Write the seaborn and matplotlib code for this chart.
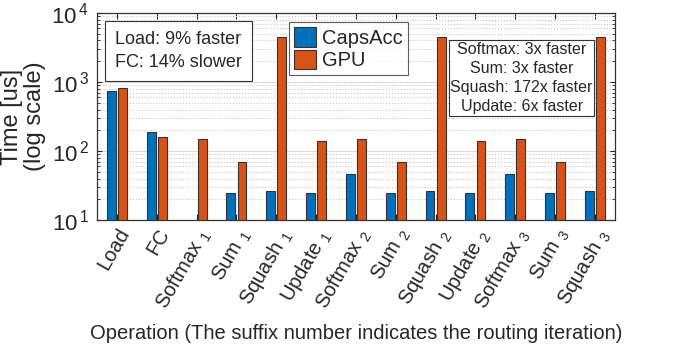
import numpy as np
import pandas as pd
import matplotlib
matplotlib.use("Agg")
import matplotlib.pyplot as plt
import seaborn as sns
from matplotlib.ticker import FixedLocator, FixedFormatter

# --- data ---
operations = ["Load", "FC",
              "Softmax $_1$", "Sum $_1$", "Squash $_1$", "Update $_1$",
              "Softmax $_2$", "Sum $_2$", "Squash $_2$", "Update $_2$",
              "Softmax $_3$", "Sum $_3$", "Squash $_3$"]
capsacc_us = [740, 188, np.nan, 24.6, 26, 24.6, 46, 24.6, 26, 24.6, 46, 24.6, 26]
gpu_us = [810, 162, 149, 69, 4450, 140, 149, 69, 4450, 140, 149, 69, 4450]
systems = ["CapsAcc", "GPU"]
colors = ["#0072BD", "#D95319"]
ytick_vals = [10, 100, 1000, 10000]
ytick_labels = ["10$^{\\,1}$", "10$^{\\,2}$", "10$^{\\,3}$", "10$^{\\,4}$"]

df = pd.DataFrame({
    "Operation": operations * 2,
    "Time": capsacc_us + gpu_us,
    "System": [systems[0]] * len(operations) + [systems[1]] * len(operations),
}).dropna()

sns.set_style("ticks")
plt.rcParams["font.family"] = ["Liberation Sans", "DejaVu Sans"]
plt.rcParams["mathtext.fontset"] = "custom"
plt.rcParams["mathtext.rm"] = "Liberation Sans"
plt.rcParams["mathtext.it"] = "Liberation Sans"
plt.rcParams["text.color"] = "#262626"
plt.rcParams["axes.labelcolor"] = "#262626"
plt.rcParams["xtick.color"] = "#262626"
plt.rcParams["ytick.color"] = "#262626"

fig = plt.figure(figsize=(6.76, 3.5), dpi=100)
ax = fig.add_axes([0.1435, 0.371, 0.766, 0.592])

sns.barplot(data=df, x="Operation", y="Time", hue="System",
            order=operations, hue_order=systems, palette=colors,
            width=0.56, gap=0.2, errorbar=None, edgecolor="#333333",
            linewidth=0.8, saturation=1, ax=ax)

ax.set_yscale("log")
ax.set_ylim(10, 1e4)
ax.set_xlim(-0.5, len(operations) - 0.5)
ax.yaxis.set_major_locator(FixedLocator(ytick_vals))
ax.yaxis.set_major_formatter(FixedFormatter(ytick_labels))

ax.yaxis.grid(True, which="major", color="#dddddd", linewidth=0.8)
ax.yaxis.grid(True, which="minor", color="#c8c8c8", linestyle=":", linewidth=0.8)
ax.xaxis.grid(False)
ax.set_axisbelow(True)
ax.tick_params(which="both", direction="in", top=True, right=True)
ax.tick_params(axis="y", labelsize=16, pad=6)
ax.tick_params(axis="x", labelsize=14.5, length=4)
for side in ax.spines.values():
    side.set_color("#333333")
    side.set_linewidth(0.9)

plt.setp(ax.get_xticklabels(), rotation=60, ha="right", rotation_mode="anchor")

ax.set_ylabel("Time [us]\n(log scale)", fontsize=17, linespacing=1.05)
ax.set_xlabel("Operation (The suffix number indicates the routing iteration)",
              fontsize=14.5, labelpad=8)

leg = ax.legend(loc="upper left", bbox_to_anchor=(0.37, 0.955), fontsize=14.5,
                frameon=True, fancybox=False, edgecolor="#333333",
                handlelength=1.1, handleheight=1.1, handletextpad=0.3,
                borderpad=0.25, labelspacing=0.1, borderaxespad=0)
leg.get_frame().set_linewidth(0.8)

box = dict(boxstyle="square,pad=0.55", facecolor="white", edgecolor="#333333", linewidth=0.8)
ax.text(0.157, 0.816, "Load: 9% faster\nFC: 14% slower", transform=ax.transAxes,
        ha="center", va="center", fontsize=13, linespacing=1.5, bbox=box)
ax.text(0.82, 0.686, "Softmax: 3x faster\nSum: 3x faster\nSquash: 172x faster\nUpdate: 6x faster",
        transform=ax.transAxes, ha="center", va="center", fontsize=11.5,
        linespacing=1.35, bbox=dict(boxstyle="square,pad=0.1", facecolor="white",
                                    edgecolor="#333333", linewidth=0.8))

fig.savefig("out.png", dpi=100)
